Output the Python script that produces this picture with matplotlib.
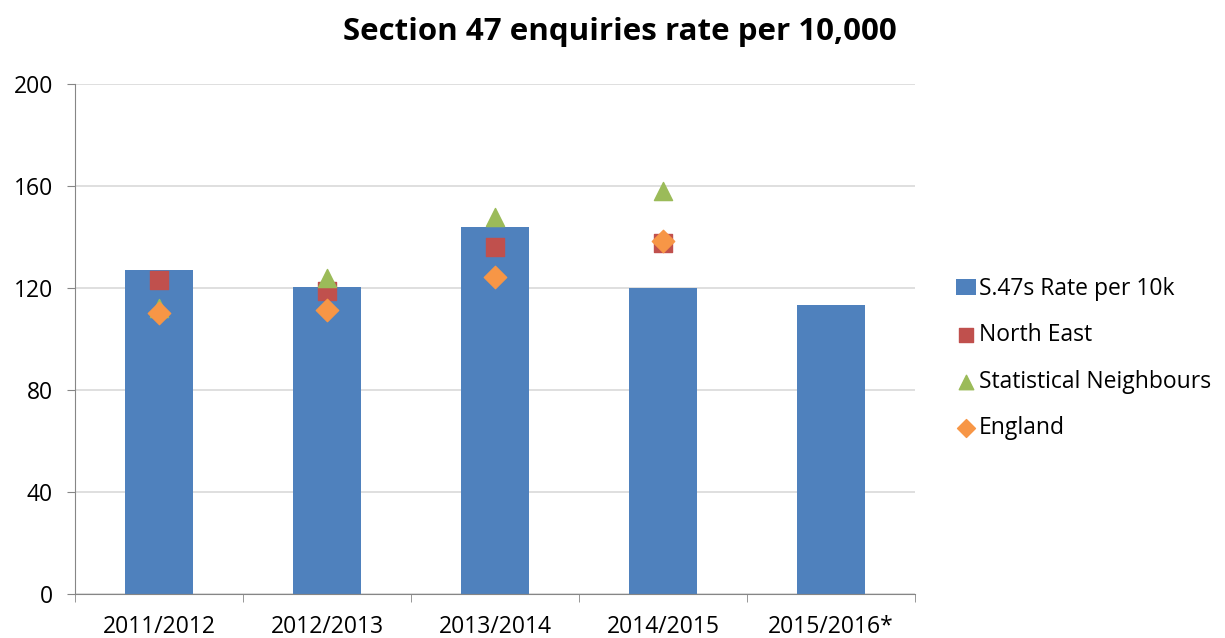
import numpy as np
import matplotlib.pyplot as plt

plt.rcParams['font.family'] = ['Open Sans', 'DejaVu Sans']

years = ['2011/2012', '2012/2013', '2013/2014', '2014/2015', '2015/2016*']
s47_rate = [127, 120.5, 144, 120, 113.5]
north_east = [123, 119, 136, 137.5]
stat_neigh = [112, 124, 148, 158]
england = [110, 111.5, 124.5, 138.5]

fig = plt.figure(figsize=(12.25, 6.38), dpi=100)
ax = fig.add_axes([75/1225, 44/638, 840/1225, 510/638])

x = np.arange(len(years))
b = ax.bar(x, s47_rate, width=0.4, color='#4f81bd', label='S.47s Rate per 10k', zorder=2)
xm = x[:len(north_east)]
ne = ax.scatter(xm, north_east, marker='s', s=150, color='#c0504d', label='North East', zorder=3)
sn = ax.scatter(xm, stat_neigh, marker='^', s=170, color='#9bbb59', label='Statistical Neighbours', zorder=3)
en = ax.scatter(xm, england, marker='D', s=130, color='#f79646', label='England', zorder=4)

ax.set_xlim(-0.5, 4.5)
ax.set_ylim(0, 200)
ax.set_yticks(range(0, 201, 40))
ax.set_xticks(x)
ax.set_xticklabels(years, fontsize=16.5)
ax.set_xticks(np.arange(-0.5, 5, 1), minor=True)
ax.tick_params(axis='x', which='major', length=0, pad=15)
ax.tick_params(axis='x', which='minor', length=6, color='#868686')
ax.tick_params(axis='y', labelsize=16.5, length=6, pad=10, color='#868686')
ax.grid(axis='y', color='#d9d9d9', linewidth=1.2, zorder=0)
for s in ['top', 'right']:
    ax.spines[s].set_visible(False)
for s in ['left', 'bottom']:
    ax.spines[s].set_color('#868686')

fig.suptitle('Section 47 enquiries rate per 10,000', x=620/1225, y=0.973,
             fontsize=22.5, fontweight='bold')

ax.legend(handles=[b, ne, sn, en], loc='center left', bbox_to_anchor=(1.024, 0.462),
          frameon=False, fontsize=16.5, handletextpad=0.1, labelspacing=0.98,
          handlelength=0.9, scatterpoints=1, markerscale=0.8)

fig.savefig('out.png', dpi=100)
